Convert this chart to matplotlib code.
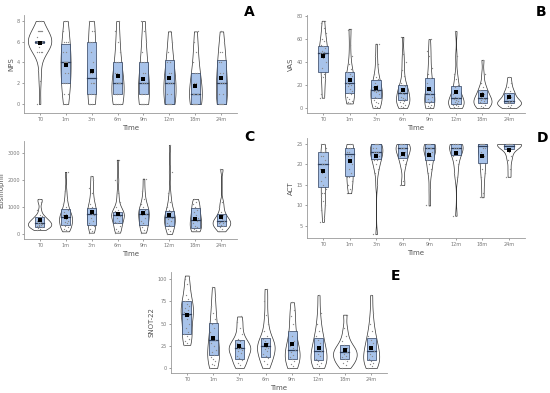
import numpy as np
import matplotlib
matplotlib.use("Agg")
import matplotlib.pyplot as plt

times = ["T0", "1m", "3m", "6m", "9m", "12m", "18m", "24m"]

# ---- A: NPS ----
nps_samples = [
    [0, 2.2, 3.3, 5, 5, 5, 5, 5.5, 6, 6, 6, 6, 6, 6, 6, 6, 6, 6, 6.5, 7, 7, 7, 7, 7, 8, 8],
    [0, 0, 1, 1, 2, 2, 2, 3, 3, 4, 4, 4, 4, 5, 5, 6, 6, 6, 7, 8, 8],
    [0, 0, 0, 1, 1, 1, 2, 2, 2, 3, 3, 4, 5, 6, 6, 6, 7, 7, 8, 8],
    [0, 0, 0, 0, 1, 1, 1, 1, 2, 2, 2, 2, 3, 3, 4, 4, 5, 6, 7, 8],
    [0, 0, 0, 0, 0, 1, 1, 1, 2, 2, 2, 3, 3, 4, 4, 5, 6, 7, 8],
    [0, 0, 0, 0, 0, 1, 1, 2, 2, 2, 2, 3, 3, 4, 4, 5, 6, 7],
    [0, 0, 0, 0, 0, 1, 1, 1, 1, 2, 2, 3, 3, 4, 5, 6, 7],
    [0, 0, 0, 0, 0, 1, 1, 2, 2, 2, 3, 3, 4, 4, 5, 5, 6, 7],
]
nps_q1 = [5.9, 2, 1, 1, 1, 0, 0, 0]
nps_med = [6, 4, 2.5, 2, 2, 2, 1, 2]
nps_q3 = [6.1, 5.75, 6, 4, 4, 4.25, 3, 4.25]
nps_mean = [5.85, 3.75, 3.15, 2.7, 2.4, 2.5, 1.75, 2.5]

# ---- B: VAS ----
vas_samples = [
    [9, 10, 12, 25, 27, 28, 30, 35, 40, 44, 46, 47, 48, 48, 49, 50, 52, 54, 55, 58, 60, 65, 70, 74, 76],
    [4, 4, 5, 6, 8, 10, 12, 13, 15, 17, 19, 20, 21, 22, 24, 26, 28, 30, 31, 34, 38, 45, 55, 68, 69],
    [0, 1, 2, 4, 5, 7, 9, 10, 12, 14, 15, 15, 16, 18, 20, 22, 25, 27, 30, 38, 45, 56],
    [0, 1, 2, 3, 4, 5, 6, 7, 8, 9, 10, 12, 13, 14, 15, 17, 19, 20, 22, 28, 33, 40, 47, 62],
    [0, 1, 2, 3, 4, 5, 6, 8, 10, 12, 13, 15, 18, 22, 26, 30, 35, 45, 50, 60],
    [0, 0, 1, 2, 3, 3, 4, 5, 6, 7, 8, 9, 10, 12, 15, 18, 20, 25, 30, 45, 67],
    [0, 1, 2, 3, 4, 5, 6, 7, 8, 9, 10, 12, 14, 16, 18, 22, 30, 42],
    [0, 1, 2, 3, 4, 4, 5, 5, 6, 6, 8, 10, 12, 13, 15, 18, 22, 27],
]
vas_q1 = [31, 13, 9, 7, 5, 3.7, 4.3, 4.3]
vas_med = [48, 21.5, 15.3, 13, 12.4, 8.6, 8.6, 5.8]
vas_q3 = [54, 31, 24.7, 20.4, 26, 19.6, 15.8, 13.2]
vas_mean = [45, 24.7, 17.6, 16, 17, 13.8, 11.5, 9.5]

# ---- C: Eosinophil ----
eos_samples = [
    [150, 200, 220, 250, 280, 300, 320, 350, 380, 400, 420, 450, 480, 500, 550, 600, 650, 700, 900, 1200, 1300],
    [100, 150, 200, 250, 300, 350, 400, 450, 500, 550, 600, 620, 650, 700, 750, 800, 900, 1000, 1100, 1300, 1600, 2300],
    [50, 100, 200, 300, 350, 400, 500, 600, 700, 750, 800, 850, 900, 950, 1000, 1100, 1300, 1500, 1700, 2000, 2150],
    [50, 100, 200, 300, 400, 450, 500, 600, 650, 700, 720, 750, 800, 850, 900, 1000, 1200, 1500, 2000, 2750],
    [50, 150, 250, 350, 400, 500, 600, 700, 750, 800, 850, 900, 1000, 1100, 1300, 1600, 2050],
    [0, 100, 200, 300, 350, 400, 500, 550, 600, 650, 700, 800, 900, 1000, 1200, 1500, 2300, 3300],
    [100, 150, 200, 250, 300, 400, 500, 550, 600, 700, 800, 900, 1000, 1100, 1200, 1300],
    [100, 200, 250, 300, 350, 400, 420, 450, 500, 550, 600, 700, 800, 1000, 1200, 2400],
]
eos_q1 = [250, 340, 346, 407, 346, 309, 222, 309]
eos_med = [420, 617, 753, 691, 741, 617, 531, 494]
eos_q3 = [640, 940, 963, 815, 914, 840, 963, 741]
eos_mean = [530, 642, 802, 740, 760, 691, 568, 617]

# ---- D: ACT ----
act_samples = [
    [6, 7, 9, 10, 11, 12, 13, 13, 14, 15, 16, 17, 18, 19, 20, 20, 21, 22, 22, 23, 23, 24, 25, 25],
    [13, 14, 15, 16, 17, 17, 18, 19, 20, 21, 22, 22, 23, 23, 24, 24, 25, 25],
    [3, 15, 18, 19, 20, 21, 21, 22, 22, 23, 23, 23, 24, 24, 25, 25, 25, 25],
    [15, 16, 19, 20, 21, 22, 22, 23, 23, 24, 24, 24, 25, 25, 25, 25],
    [10, 14, 18, 19, 20, 21, 22, 23, 23, 24, 24, 24, 25, 25, 25, 25],
    [7.5, 17, 18, 20, 21, 22, 23, 23, 24, 24, 24, 25, 25, 25, 25, 25],
    [12, 13, 17, 18, 19, 20, 22, 23, 24, 24, 25, 25, 25, 25, 25],
    [17, 19, 21, 22, 23, 24, 24, 25, 25, 25, 25, 25, 25, 25, 25],
]
act_q1 = [14.5, 17.1, 21.4, 21.7, 21, 22.3, 20.3, 23.8]
act_med = [20.1, 22.6, 23, 24, 24, 24, 24.4, 24.6]
act_q3 = [23.05, 24, 25, 25, 25, 25, 25, 25]
act_mean = [18.3, 20.8, 22.1, 22.6, 22.2, 22.9, 22.1, 23.6]

# ---- E: SNOT-22 ----
snot_samples = [
    [26, 28, 30, 33, 36, 38, 40, 45, 50, 55, 58, 60, 62, 63, 65, 68, 70, 72, 75, 78, 82, 88, 95, 100, 104],
    [0, 3, 5, 8, 10, 12, 15, 18, 20, 25, 28, 31, 35, 40, 45, 50, 55, 62, 70, 80, 91],
    [0, 3, 6, 9, 11, 14, 17, 19, 20, 22, 23, 24, 26, 28, 30, 33, 38, 45, 52, 58],
    [0, 4, 8, 11, 13, 16, 19, 21, 23, 24, 26, 28, 30, 33, 36, 42, 50, 60, 75, 89],
    [0, 2, 5, 8, 10, 12, 15, 18, 20, 22, 25, 30, 36, 42, 50, 58, 65, 74],
    [0, 2, 4, 6, 8, 10, 13, 16, 19, 21, 24, 28, 32, 36, 42, 50, 62, 82],
    [0, 3, 6, 8, 10, 12, 14, 16, 18, 19, 21, 23, 26, 30, 36, 45, 60],
    [0, 2, 4, 6, 8, 10, 13, 16, 19, 21, 24, 28, 32, 36, 42, 50, 62, 82],
]
snot_q1 = [38.7, 15, 10.5, 12.4, 10, 8.6, 9.8, 8.6]
snot_med = [61, 31, 23, 24.4, 20, 19, 18, 19]
snot_q3 = [75, 50.8, 32, 33.8, 41.7, 33.8, 26.3, 33.8]
snot_mean = [60, 34, 24.4, 26.3, 26.7, 22.9, 20.7, 22.9]

BOX_FILL = "#a8c3ea"
BOX_EDGE = "#2e3f5c"
GREY = "#777777"


def kde_profile(vals, adjust=1.0, n=160):
    v = np.asarray(vals, float)
    sd = v.std(ddof=1)
    iqr = np.percentile(v, 75) - np.percentile(v, 25)
    lo = min(sd, iqr / 1.34) or sd
    bw = 0.9 * lo * len(v) ** -0.2 * adjust
    ys = np.linspace(v.min(), v.max(), n)
    d = np.exp(-0.5 * ((ys[:, None] - v[None, :]) / bw) ** 2).sum(1)
    d = d / (len(v) * bw * np.sqrt(2 * np.pi))
    return ys, d


def draw_panel(ax, samples, q1, med, q3, mean, ylabel, ylim, yticks, adjust=1.0):
    xs = np.arange(1, len(times) + 1)
    profiles = [kde_profile(s, adjust) for s in samples]
    dmax = max(p[1].max() for p in profiles)
    for x, (ys, d) in zip(xs, profiles):
        hw = 0.45 * d / dmax
        ax.fill_betweenx(ys, x - hw, x + hw, facecolor="white",
                         edgecolor="#333333", linewidth=0.5, zorder=1)
    ax.bar(xs, np.array(q3) - np.array(q1), bottom=q1, width=0.35,
           color=BOX_FILL, edgecolor=BOX_EDGE, linewidth=0.5, zorder=2)
    for x, m in zip(xs, med):
        ax.plot([x - 0.175, x + 0.175], [m, m], color=BOX_EDGE, lw=0.9, zorder=3)
    # jittered raw points
    for x, s in zip(xs, samples):
        k = np.arange(len(s))
        off = ((k * 0.618034) % 1 - 0.5) * 0.22
        ax.scatter(x + off, s, s=0.9, color="#8a8a8a", linewidths=0, zorder=4)
    ax.scatter(xs, mean, marker="s", s=7, color="black", linewidths=0, zorder=5)

    ax.set_xlim(0.4, 8.6)
    ax.set_ylim(*ylim)
    ax.set_xticks(xs)
    ax.set_xticklabels(times)
    ax.set_yticks(yticks)
    for sp in ["top", "right"]:
        ax.spines[sp].set_visible(False)
    for sp in ["left", "bottom"]:
        ax.spines[sp].set_color("#999999")
        ax.spines[sp].set_linewidth(0.6)
    ax.tick_params(labelsize=3.5, colors=GREY, length=1.5, width=0.5, pad=1.5)
    ax.set_xlabel("Time", fontsize=5, color="#555555", labelpad=2)
    ax.set_ylabel(ylabel, fontsize=5, color="#555555", labelpad=2)


W, H = 550, 393
fig = plt.figure(figsize=(W / 100, H / 100), dpi=100)


def px_axes(left, right, top, bottom):
    return fig.add_axes([left / W, 1 - bottom / H, (right - left) / W, (bottom - top) / H])


axA = px_axes(24, 237, 15, 113)
axB = px_axes(307, 525, 15, 113)
axC = px_axes(24, 237, 141, 239)
axD = px_axes(307, 525, 138, 238)
axE = px_axes(171, 387, 272, 373)

draw_panel(axA, nps_samples, nps_q1, nps_med, nps_q3, nps_mean, "NPS",
           (-0.87, 8.58), [0, 2, 4, 6, 8], adjust=1.4)
draw_panel(axB, vas_samples, vas_q1, vas_med, vas_q3, vas_mean, "VAS",
           (-4.3, 81), [0, 20, 40, 60, 80])
draw_panel(axC, eos_samples, eos_q1, eos_med, eos_q3, eos_mean, "Eosinophil",
           (-185, 3444), [0, 1000, 2000, 3000])
draw_panel(axD, act_samples, act_q1, act_med, act_q3, act_mean, "ACT",
           (2.07, 26.46), [5, 10, 15, 20, 25])
draw_panel(axE, snot_samples, snot_q1, snot_med, snot_q3, snot_mean, "SNOT-22",
           (-5.6, 108), [0, 25, 50, 75, 100])

for lab, (px, py) in zip("ABCDE", [(249, 12), (541, 12), (249, 137), (542, 138), (396, 276)]):
    fig.text(px / W, 1 - py / H, lab, fontsize=10, fontweight="bold",
             ha="center", va="center")

fig.savefig("out.png", dpi=100, facecolor="white")
